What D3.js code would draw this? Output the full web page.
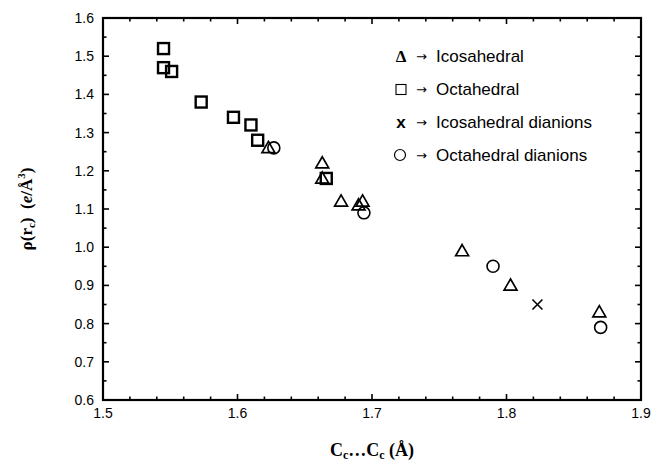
<!DOCTYPE html>
<html>
<head>
<meta charset="utf-8">
<script src="https://cdn.jsdelivr.net/npm/d3@7"></script>
<style>
body { margin: 0; background: #fff; }
svg { display: block; }
</style>
</head>
<body>
<svg id="chart" width="652" height="468"></svg>
<script>
// values
var octX = [1.545, 1.545, 1.551, 1.573, 1.597, 1.610, 1.615, 1.666];
var octY = [1.52, 1.47, 1.46, 1.38, 1.34, 1.32, 1.28, 1.18];
var icoX = [1.623, 1.663, 1.663, 1.677, 1.690, 1.693, 1.767, 1.803, 1.869];
var icoY = [1.26, 1.22, 1.18, 1.12, 1.11, 1.12, 0.99, 0.90, 0.83];
var icoDiX = [1.823];
var icoDiY = [0.85];
var octDiX = [1.627, 1.694, 1.790, 1.870];
var octDiY = [1.26, 1.09, 0.95, 0.79];

var xTicks = [1.5, 1.6, 1.7, 1.8, 1.9];
var yTicks = [0.6, 0.7, 0.8, 0.9, 1.0, 1.1, 1.2, 1.3, 1.4, 1.5, 1.6];
var legendLabels = ["Icosahedral", "Octahedral", "Icosahedral dianions", "Octahedral dianions"];

var svg = d3.select("#chart");
var margin = {left: 103, right: 11, top: 18, bottom: 68};
var W = 652, H = 468;

var x = d3.scaleLinear().domain([1.5, 1.9]).range([margin.left, W - margin.right]);
var y = d3.scaleLinear().domain([0.6, 1.6]).range([H - margin.bottom, margin.top]);

var x0 = x.range()[0], x1 = x.range()[1], y0 = y.range()[0], y1 = y.range()[1];

//ticks, inside, on all four sides
var g = svg.append("g").attr("stroke", "#000").attr("stroke-width", 1.6);
var xMinor = d3.range(1.5, 1.9001, 0.02);
var yMinor = d3.range(0.6, 1.6001, 0.05);
xMinor.forEach(function(v, i) {
	var len = (i % 5 == 0) ? 6 : 3.5;
	g.append("line").attr("x1", x(v)).attr("x2", x(v)).attr("y1", y0).attr("y2", y0 - len);
	g.append("line").attr("x1", x(v)).attr("x2", x(v)).attr("y1", y1).attr("y2", y1 + len);
});
yMinor.forEach(function(v, i) {
	var len = (i % 2 == 0) ? 6 : 3.5;
	g.append("line").attr("y1", y(v)).attr("y2", y(v)).attr("x1", x0).attr("x2", x0 + len);
	g.append("line").attr("y1", y(v)).attr("y2", y(v)).attr("x1", x1).attr("x2", x1 - len);
});

//frame
svg.append("rect")
	.attr("x", x0).attr("y", y1)
	.attr("width", x1 - x0).attr("height", y0 - y1)
	.attr("fill", "none").attr("stroke", "#000").attr("stroke-width", 2.2);

//tick labels
svg.append("g").selectAll("text").data(xTicks).enter().append("text")
	.attr("x", function(d) { return x(d); })
	.attr("y", y0 + 18)
	.attr("text-anchor", "middle")
	.attr("font-family", "Liberation Sans, Arial, sans-serif")
	.attr("font-size", 14)
	.text(function(d) { return d.toFixed(1); });

svg.append("g").selectAll("text").data(yTicks).enter().append("text")
	.attr("x", x0 - 9)
	.attr("y", function(d) { return y(d) + 5; })
	.attr("text-anchor", "end")
	.attr("font-family", "Liberation Sans, Arial, sans-serif")
	.attr("font-size", 14)
	.text(function(d) { return d.toFixed(1); });

//axis titles
var xt = svg.append("text")
	.attr("x", (x0 + x1) / 2).attr("y", 456)
	.attr("text-anchor", "middle")
	.attr("font-family", "Liberation Serif, Times New Roman, serif")
	.attr("font-weight", "bold")
	.attr("font-size", 18);
xt.append("tspan").text("C");
xt.append("tspan").attr("font-size", 12).attr("dy", 3).text("c");
xt.append("tspan").attr("dy", -3).text("…C");
xt.append("tspan").attr("font-size", 12).attr("dy", 3).text("c");
xt.append("tspan").attr("dy", -3).text(" (Å)");

var yt = svg.append("text")
	.attr("transform", "translate(32," + ((y0 + y1) / 2) + ") rotate(-90)")
	.attr("text-anchor", "middle")
	.attr("font-family", "Liberation Serif, Times New Roman, serif")
	.attr("font-weight", "bold")
	.attr("font-size", 17)
	.attr("xml:space", "preserve");
yt.append("tspan").text("ρ(r");
yt.append("tspan").attr("font-size", 11).attr("dy", 3).text("c");
yt.append("tspan").attr("dy", -3).text(")  (");
yt.append("tspan").attr("font-style", "italic").text("e");
yt.append("tspan").text("/Å");
yt.append("tspan").attr("font-size", 11).attr("dy", -7).text("3");
yt.append("tspan").attr("dy", 7).text(")");

//markers
var pts = svg.append("g").attr("fill", "none").attr("stroke", "#000");

pts.selectAll(".oct").data(d3.zip(octX, octY)).enter().append("rect")
	.attr("x", function(d) { return x(d[0]) - 5.5; })
	.attr("y", function(d) { return y(d[1]) - 5.5; })
	.attr("width", 11).attr("height", 11)
	.attr("stroke-width", 2.4);

var tri = d3.symbol().type(d3.symbolTriangle).size(72);
pts.selectAll(".ico").data(d3.zip(icoX, icoY)).enter().append("path")
	.attr("d", tri)
	.attr("transform", function(d) { return "translate(" + x(d[0]) + "," + (y(d[1]) + 1) + ")"; })
	.attr("stroke-width", 1.7);

pts.selectAll(".octdi").data(d3.zip(octDiX, octDiY)).enter().append("circle")
	.attr("cx", function(d) { return x(d[0]); })
	.attr("cy", function(d) { return y(d[1]); })
	.attr("r", 6)
	.attr("stroke-width", 1.6);

pts.selectAll(".icodi").data(d3.zip(icoDiX, icoDiY)).enter().append("path")
	.attr("d", function(d) {
		var cx = x(d[0]), cy = y(d[1]), s = 5;
		return "M" + (cx - s) + "," + (cy - s) + "L" + (cx + s) + "," + (cy + s) +
			"M" + (cx - s) + "," + (cy + s) + "L" + (cx + s) + "," + (cy - s);
	})
	.attr("stroke-width", 1.6);

//legend
var legend = svg.append("g");
legendLabels.forEach(function(lab, i) {
	var ly = 62 + i * 33;
	var sx = 401, sy = ly - 6;
	if (i == 0) {
		legend.append("text").attr("x", sx).attr("y", ly)
			.attr("text-anchor", "middle")
			.attr("font-family", "Liberation Serif, serif")
			.attr("font-weight", "bold").attr("font-size", 17)
			.text("Δ");
	} else if (i == 1) {
		legend.append("rect").attr("x", sx - 5).attr("y", sy - 4.5)
			.attr("width", 10).attr("height", 10)
			.attr("fill", "none").attr("stroke", "#000").attr("stroke-width", 1.1);
	} else if (i == 2) {
		legend.append("text").attr("x", sx).attr("y", ly)
			.attr("text-anchor", "middle")
			.attr("font-family", "Liberation Sans, Arial, sans-serif")
			.attr("font-weight", "bold").attr("font-size", 17)
			.text("x");
	} else {
		legend.append("circle").attr("cx", sx - 1).attr("cy", sy)
			.attr("r", 5.5)
			.attr("fill", "none").attr("stroke", "#000").attr("stroke-width", 1.2);
	}
	legend.append("text")
		.attr("x", 416).attr("y", ly - 1)
		.attr("fill", "#000")
		.attr("font-family", "DejaVu Sans, sans-serif")
		.attr("font-size", 13)
		.text("\u2192");
	legend.append("text")
		.attr("x", 436).attr("y", ly)
		.attr("font-family", "Liberation Sans, Arial, sans-serif")
		.attr("font-size", 17)
		.text(lab);
});
</script>
</body>
</html>
